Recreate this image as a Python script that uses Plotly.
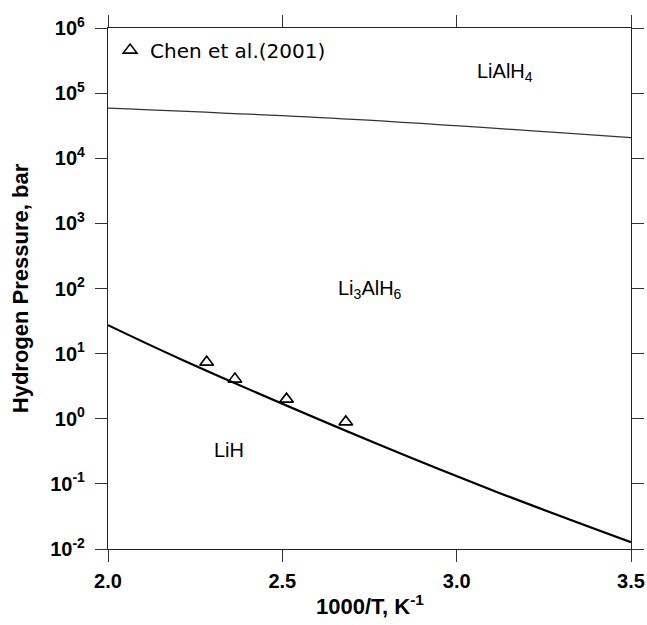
import plotly.graph_objects as go

# Boundary lines
upper_x = [2.0, 2.703, 3.5]
upper_p = [5.9e4, 3.96e4, 2.07e4]

lower_x = [2.0, 2.215, 2.780, 3.124, 3.5]
lower_p = [27.4, 7.94, 0.394, 0.072, 0.0127]

# Chen et al. (2001) data
chen_x = [2.283, 2.364, 2.512, 2.682]
chen_p = [7.4, 4.06, 2.0, 0.895]

ytick_exp = [-2, -1, 0, 1, 2, 3, 4, 5, 6]
xtick_vals = [2.0, 2.5, 3.0, 3.5]
xtick_text = ["2.0", "2.5", "3.0", "3.5"]

FONT = "Liberation Sans, Arial, sans-serif"

fig = go.Figure()
fig.add_trace(go.Scatter(x=upper_x, y=upper_p, mode="lines",
                         line=dict(color="#333333", width=1.2, shape="spline"),
                         showlegend=False, hoverinfo="skip"))
fig.add_trace(go.Scatter(x=lower_x, y=lower_p, mode="lines",
                         line=dict(color="black", width=2.2, shape="spline"),
                         showlegend=False, hoverinfo="skip"))
fig.add_trace(go.Scatter(x=chen_x, y=chen_p, mode="markers",
                         marker=dict(symbol="triangle-up-open", size=12,
                                     color="black", line=dict(width=1.6, color="black")),
                         name="Chen et al.(2001)"))

fig.add_annotation(x=3.14, y=5.31, text="LiAlH<sub>4</sub>", showarrow=False,
                   font=dict(family=FONT, size=20, color="black"))
fig.add_annotation(x=2.751, y=1.99, text="Li<sub>3</sub>AlH<sub>6</sub>", showarrow=False,
                   font=dict(family=FONT, size=20, color="black"))
fig.add_annotation(x=2.347, y=-0.48, text="LiH", showarrow=False,
                   font=dict(family=FONT, size=20, color="black"))
# x-axis title placed as a paper annotation for exact vertical position
fig.add_annotation(xref="paper", yref="paper", x=0.5, y=-0.108, yanchor="middle",
                   text="<b>1000/T, K<sup>-1</sup></b>", showarrow=False,
                   font=dict(family=FONT, size=22, color="black"))

axis_common = dict(showline=True, linecolor="#222222", linewidth=1.3,
                   ticks="outside", ticklen=12, tickwidth=1.3, tickcolor="#333333",
                   mirror="ticks", showgrid=False, zeroline=False, automargin=False)

fig.update_xaxes(range=[2.0, 3.5], tickvals=xtick_vals, ticktext=xtick_text,
                 tickfont=dict(family=FONT, size=20, color="black", weight="bold"),
                 ticklabelstandoff=2,
                 **axis_common)
fig.update_yaxes(type="log", range=[-2, 6],
                 tickvals=[10 ** e for e in ytick_exp],
                 ticktext=[f"10<sup>{e}</sup>" for e in ytick_exp],
                 tickfont=dict(family=FONT, size=20, color="black", weight="bold"),
                 ticklabelstandoff=6,
                 title=dict(text="<b>Hydrogen Pressure, bar</b>",
                            font=dict(family=FONT, size=22, color="black")),
                 **axis_common)

fig.update_layout(width=647, height=625, plot_bgcolor="white", paper_bgcolor="white",
                  margin=dict(l=108, r=16, t=28, b=76),
                  legend=dict(x=0.004, y=0.995, xanchor="left", yanchor="top",
                              bgcolor="rgba(0,0,0,0)", borderwidth=0,
                              font=dict(family="DejaVu Sans, sans-serif", size=20, color="black"),
                              itemwidth=30))

fig.write_html(
    "out.html",
    config={"displayModeBar": False},
    post_script=("document.body.style.margin='0';"
                 "document.body.style.overflow='hidden';"
                 "document.documentElement.style.overflow='hidden';"),
)
